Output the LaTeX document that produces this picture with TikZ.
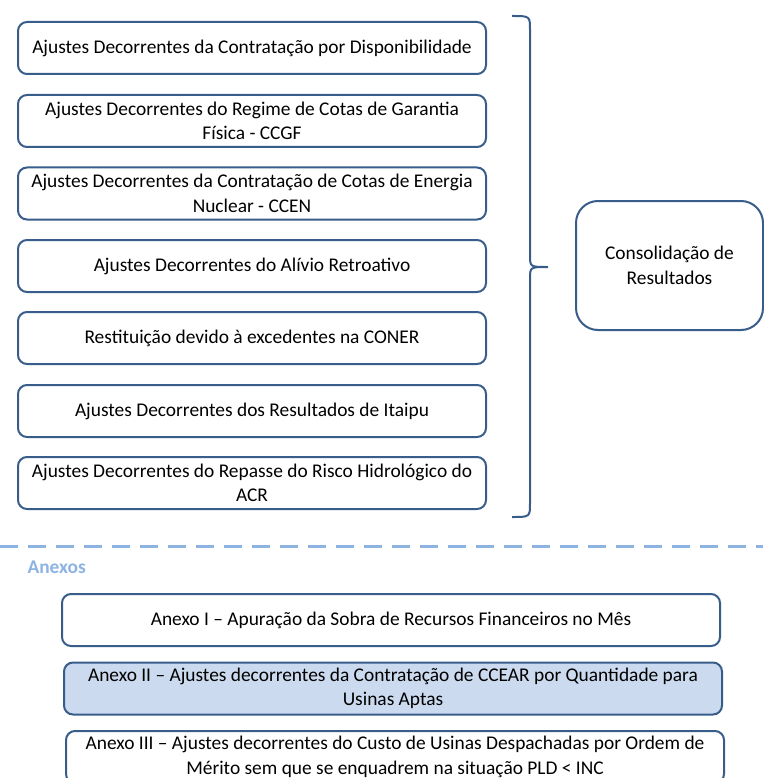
\documentclass[tikz,border=0pt]{standalone}
\usepackage{fontspec}
\setmainfont{Carlito}
\definecolor{boxline}{RGB}{56,93,138}
\definecolor{annexfill}{RGB}{203,218,238}
\definecolor{sepline}{RGB}{141,179,226}
\begin{document}
\begin{tikzpicture}[x=1pt, y=-1pt,
    item/.style={draw=boxline, line width=2pt, rounded corners=9pt, minimum width=468pt, minimum height=52pt, align=center, inner sep=1pt, font=\fontsize{19.4}{24.5}\selectfont},
    annex/.style={item, minimum width=658pt}]
                \useasboundingbox (0,0) rectangle (763,778);
                % Ajustes
                \node[item] (disp) at (252,48) {Ajustes Decorrentes da Contratação por Disponibilidade};
                \node[item] (ccgf) at (252,121) {Ajustes Decorrentes do Regime de Cotas de Garantia\\Física - CCGF};
                \node[item] (ccen) at (252,193.5) {Ajustes Decorrentes da Contratação de Cotas de Energia\\Nuclear - CCEN};
                \node[item] (alivio) at (252,266) {Ajustes Decorrentes do Alívio Retroativo};
                \node[item] (coner) at (252,338) {Restituição devido à excedentes na CONER};
                \node[item] (itaipu) at (252,411) {Ajustes Decorrentes dos Resultados de Itaipu};
                \node[item] (risco) at (252,483) {Ajustes Decorrentes do Repasse do Risco Hidrológico do\\ACR};
                \node[item, minimum width=187pt, minimum height=129pt, rounded corners=22pt] (cons) at (669.5,265.5) {Consolidação de\\Resultados};

                % Chave
                \coordinate (btop) at (512,16);
                \coordinate (btip) at (548,267);
                \coordinate (bbot) at (512,517);
                \draw[boxline, line width=2pt] (btop) .. controls (530,16) .. (530,30) -- (530,255) .. controls (530,267) .. (btip)
                    .. controls (530,267) .. (530,279) -- (530,503) .. controls (530,517) .. (bbot);

                % Anexos
                \coordinate (sepl) at (0,546);
                \coordinate (sepr) at (763,546);
                \draw[sepline, line width=3pt, dash pattern=on 18pt off 10pt] (sepl) -- (sepr);
                \node[anchor=west, text=sepline, font=\fontsize{19.4}{22}\selectfont\bfseries] (anexos) at (24,567) {Anexos};
                \node[annex] (anx1) at (391,620) {Anexo I – Apuração da Sobra de Recursos Financeiros no Mês};
                \node[annex, fill=annexfill] (anx2) at (393,688.5) {Anexo II – Ajustes decorrentes da Contratação de CCEAR por Quantidade para\\Usinas Aptas};
                \node[annex] (anx3) at (395,757) {Anexo III – Ajustes decorrentes do Custo de Usinas Despachadas por Ordem de\\Mérito sem que se enquadrem na situação PLD < INC};
            \end{tikzpicture}
\end{document}
